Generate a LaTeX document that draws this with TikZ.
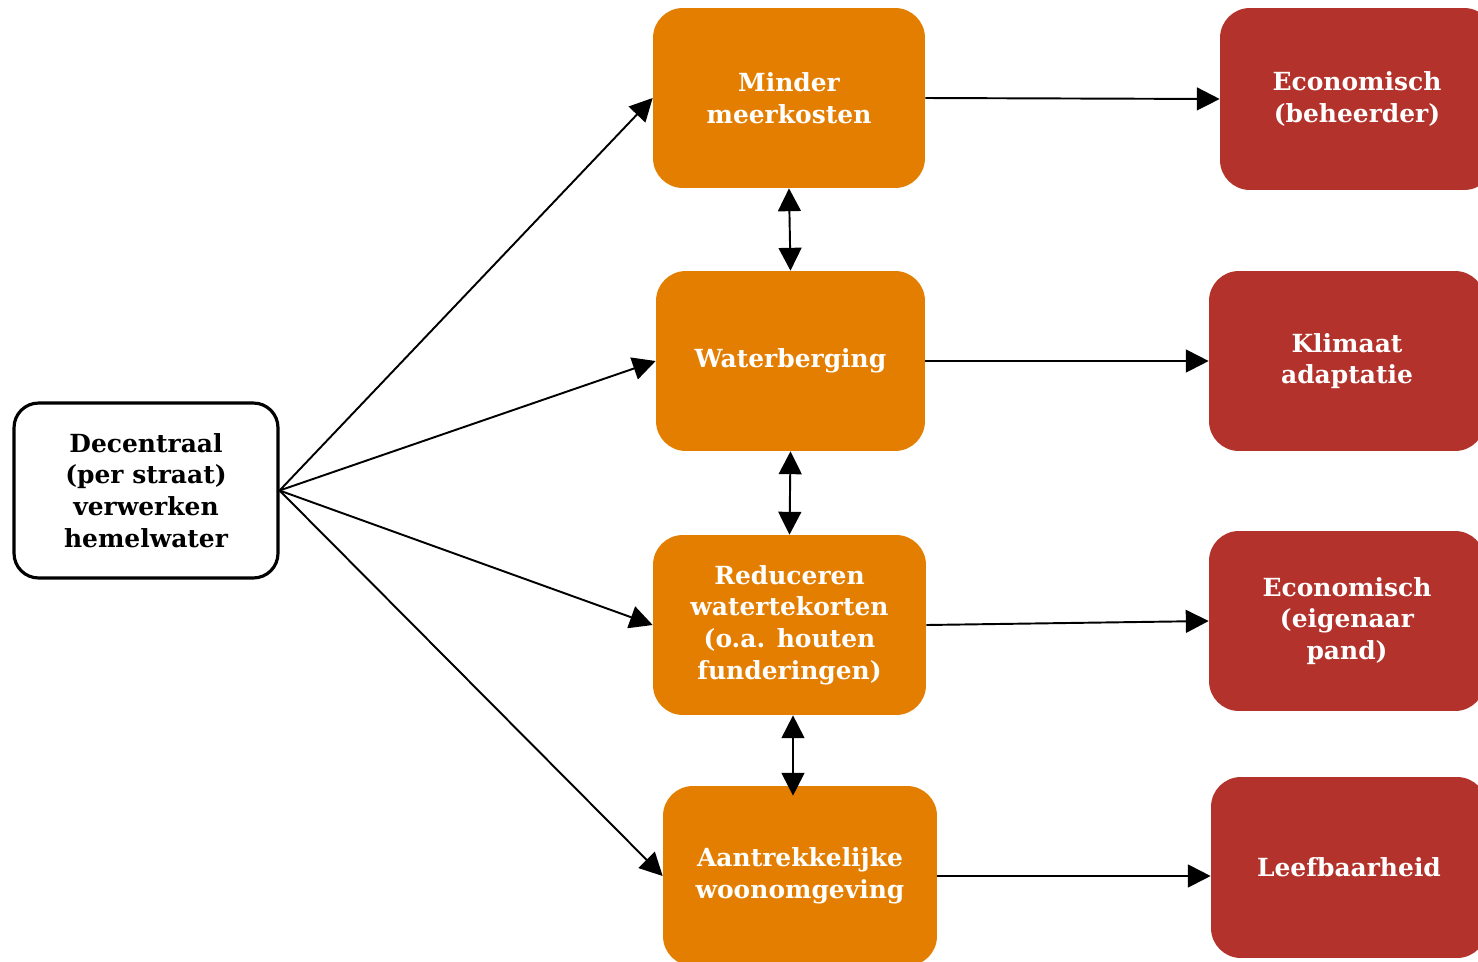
\documentclass[tikz,border=0pt]{standalone}
\usepackage{fontspec}
\setmainfont{DejaVu Serif}
\usetikzlibrary{arrows.meta}
\definecolor{boxorange}{RGB}{228,126,0}
\definecolor{boxred}{RGB}{179,50,43}
\begin{document}
\begin{tikzpicture}[x=0.02cm,y=-0.02cm,
  txt/.style={font=\fontsize{14.2pt}{18pt}\selectfont\bfseries,align=center},
  srcbox/.style={txt,draw=black,line width=1.8pt,rounded corners=14pt,fill=white,inner sep=0pt},
  midbox/.style={txt,fill=boxorange,text=white,rounded corners=17pt,inner sep=0pt,minimum height=3.6cm},
  outbox/.style={txt,fill=boxred,text=white,rounded corners=17pt,inner sep=0pt},
  link/.style={line width=1.1pt,-{Triangle[length=13pt,width=13pt]}},
  dlink/.style={line width=1.1pt,{Triangle[length=13pt,width=13pt]}-{Triangle[length=13pt,width=13pt]}}]
\useasboundingbox (0,0) rectangle (1478,961);

% source
\node[srcbox,minimum width=5.28cm,minimum height=3.5cm] (src) at (146,490.5)
  {Decentraal\\(per straat)\\verwerken\\hemelwater};

% effects
\node[midbox,minimum width=5.44cm] (m1) at (789,98) {Minder\\meerkosten};
\node[midbox,minimum width=5.38cm] (m2) at (790.5,361) {Waterberging};
\node[midbox,minimum width=5.46cm] (m3) at (789.5,625) {Reduceren\\watertekorten\\(o.a. houten\\funderingen)};
\node[midbox,minimum width=5.48cm] (m4) at (800,876) {Aantrekkelijke\\woonomgeving};

% values
\node[outbox,minimum width=5.48cm,minimum height=3.64cm] (r1) at (1357,99) {Economisch\\(beheerder)};
\node[outbox,minimum width=5.52cm,minimum height=3.6cm] (r2) at (1347,361) {Klimaat\\adaptatie};
\node[outbox,minimum width=5.52cm,minimum height=3.6cm] (r3) at (1347,621) {Economisch\\(eigenaar\\pand)};
\node[outbox,minimum width=5.52cm,minimum height=3.62cm] (r4) at (1349,867.5) {Leefbaarheid};

% connectors
\draw[link] (src.east) -- (m1.west);
\draw[link] (src.east) -- (m2.west);
\draw[link] (src.east) -- (m3.west);
\draw[link] (src.east) -- (m4.west);

\draw[link] (m1.east) -- (r1.west);
\draw[link] (m2.east) -- (r2.west);
\draw[link] (m3.east) -- (r3.west);
\draw[link] (m4.east) -- (r4.west |- m4.east);

\draw[dlink] (m1.south) -- (m2.north);
\draw[dlink] (m2.south) -- (m3.north);
\draw[dlink,shorten >=-0.2cm] ([xshift=0.07cm]m3.south) -- ([xshift=0.07cm]m3.south |- m4.north);
\end{tikzpicture}
\end{document}
